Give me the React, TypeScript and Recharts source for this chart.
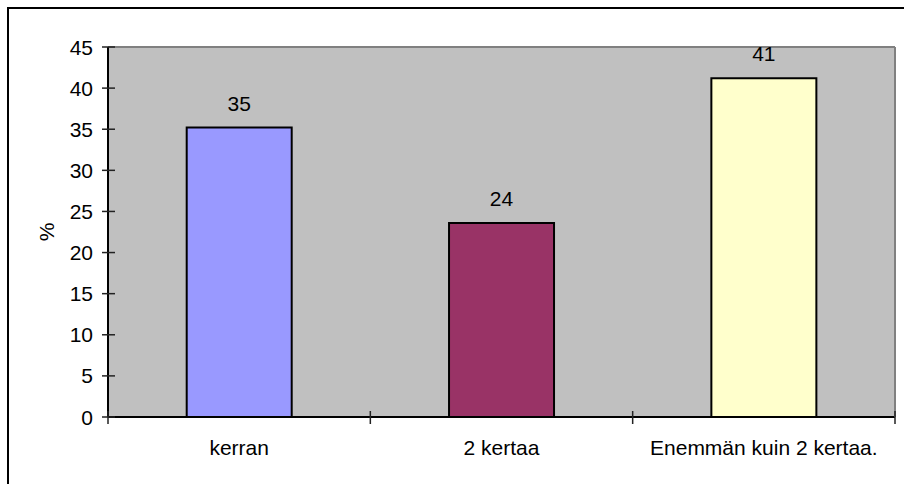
import { BarChart, Bar, XAxis, YAxis, CartesianGrid, Cell, LabelList } from "recharts";

const categories = ["kerran", "2 kertaa", "Enemmän kuin 2 kertaa."];
const values = [35.2, 23.6, 41.2];
const barColors = ["#9999FF", "#993366", "#FFFFCC"];
const yTicks = [0, 5, 10, 15, 20, 25, 30, 35, 40, 45];

const data = categories.map((name, i) => ({ name, value: values[i] }));

const FONT = "'Liberation Sans', Arial, sans-serif";
const FS = 21;

// y ticks cross the axis line: 6px outside, 7px inside
function YTick({ x, y, payload }: any) {
    return (
        <g>
            <line x1={x - 6} x2={x + 7} y1={y} y2={y} stroke="#222" strokeWidth={1.5} />
            <text x={x - 15} y={y} dy="0.36em" textAnchor="end" fontSize={FS} fontFamily={FONT} fill="#000">
                {payload.value}
            </text>
        </g>
    );
}

// category labels, with tick marks at the band edges
function XTick({ x, y, payload, index, visibleTicksCount }: any) {
    const half = payload.offset || 0;
    const isLast = index === visibleTicksCount - 1;
    return (
        <g>
            <line x1={x - half} x2={x - half} y1={y - 6} y2={y + 7} stroke="#222" strokeWidth={1.5} />
            {isLast && <line x1={x + half} x2={x + half} y1={y - 6} y2={y + 7} stroke="#222" strokeWidth={1.5} />}
            <text x={x} y={y + 38} textAnchor="middle" fontSize={FS} fontFamily={FONT} fill="#000">
                {payload.value}
            </text>
        </g>
    );
}

function PercentLabel() {
    return (
        <text
            x={46}
            y={232}
            transform="rotate(-90, 46, 232)"
            textAnchor="middle"
            dy="0.36em"
            fontSize={FS}
            fontFamily={FONT}
            fill="#000"
        >
            %
        </text>
    );
}

export default function App() {
    return (
        <div style={{ position: "absolute", left: 0, top: 0, width: 904, height: 484, overflow: "hidden", background: "#fff" }}>
            <div
                style={{
                    position: "absolute",
                    left: 7,
                    top: 7,
                    width: 960,
                    height: 540,
                    border: "2px solid #000",
                }}
            />
            <div style={{ position: "absolute", left: 0, top: 0 }}>
                <BarChart
                    width={904}
                    height={484}
                    data={data}
                    margin={{ top: 0, right: 0, bottom: 0, left: 0 }}
                    barCategoryGap="30%"
                >
                    <CartesianGrid horizontal={false} vertical={false} fill="#C0C0C0" />
                    <XAxis
                        dataKey="name"
                        height={67}
                        tickSize={0}
                        tickMargin={0}
                        tickLine={false}
                        axisLine
                        stroke="#000"
                        strokeWidth={2}
                        tick={<XTick />}
                        interval={0}
                    />
                    <XAxis
                        xAxisId="top"
                        dataKey="name"
                        orientation="top"
                        height={47}
                        tick={false}
                        tickLine={false}
                        axisLine
                        stroke="#808080"
                        strokeWidth={2}
                    />
                    <YAxis
                        width={108}
                        domain={[0, 45]}
                        ticks={yTicks}
                        interval={0}
                        tickSize={0}
                        tickMargin={0}
                        tickLine={false}
                        axisLine
                        stroke="#000"
                        strokeWidth={2}
                        tick={<YTick />}
                        label={<PercentLabel />}
                    />
                    <YAxis
                        yAxisId="right"
                        orientation="right"
                        width={9}
                        domain={[0, 45]}
                        tick={false}
                        tickLine={false}
                        axisLine
                        stroke="#808080"
                        strokeWidth={2}
                    />
                    <Bar dataKey="value" stroke="#000" strokeWidth={2} isAnimationActive={false}>
                        {data.map((d, i) => (
                            <Cell key={d.name} fill={barColors[i]} />
                        ))}
                        <LabelList
                            dataKey="value"
                            position="top"
                            offset={17}
                            formatter={(v: any) => Math.round(Number(v))}
                            fontSize={FS}
                            fontFamily={FONT}
                            fill="#000"
                        />
                    </Bar>
                </BarChart>
            </div>
        </div>
    );
}
